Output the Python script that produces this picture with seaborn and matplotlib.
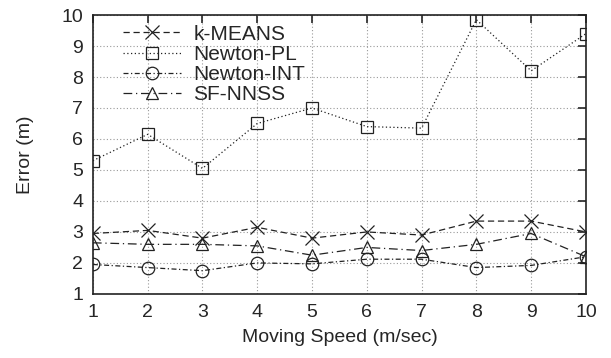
import pandas as pd
import matplotlib.pyplot as plt
import seaborn as sns

speeds = [1, 2, 3, 4, 5, 6, 7, 8, 9, 10]
kmeans = [2.95, 3.05, 2.8, 3.15, 2.8, 3.0, 2.9, 3.35, 3.35, 3.0]
newton_pl = [5.3, 6.15, 5.05, 6.5, 7.0, 6.4, 6.35, 9.85, 8.2, 9.4]
newton_int = [1.95, 1.85, 1.75, 2.0, 1.97, 2.12, 2.12, 1.85, 1.92, 2.2]
sf_nnss = [2.65, 2.6, 2.6, 2.55, 2.25, 2.5, 2.4, 2.6, 2.95, 2.2]

series = {
    'k-MEANS': kmeans,
    'Newton-PL': newton_pl,
    'Newton-INT': newton_int,
    'SF-NNSS': sf_nnss,
}

# gnuplot-ish line/marker styles
styles = {
    'k-MEANS': dict(marker='x', linestyle=(0, (5, 3)), markersize=10),
    'Newton-PL': dict(marker='s', linestyle=(0, (1, 2)), markersize=9),
    'Newton-INT': dict(marker='o', linestyle=(0, (4, 2, 1, 2)), markersize=9),
    'SF-NNSS': dict(marker='^', linestyle=(0, (7, 3, 1, 3)), markersize=9),
}

sns.set_style('white')
plt.rcParams['font.family'] = ['Liberation Sans', 'DejaVu Sans']

fig = plt.figure(figsize=(6.11, 3.58), dpi=100)
ax = fig.add_axes([0.152, 0.179, 0.807, 0.779])

for name, vals in series.items():
    df = pd.DataFrame({'speed': speeds, 'error': vals})
    sns.lineplot(data=df, x='speed', y='error', ax=ax, color='#222222',
                 linewidth=0.9, markerfacecolor='none', markeredgecolor='#222222',
                 markeredgewidth=0.9, label=name, **styles[name])

ax.set_xlim(1, 10)
ax.set_ylim(1, 10)
ax.set_xticks(speeds)
ax.set_yticks(range(1, 11))
ax.grid(True, color='#999999', linestyle=(0, (1, 2)), linewidth=0.8)
ax.tick_params(direction='in', length=6, width=1.2, labelsize=14,
               top=True, right=True, pad=7)
for sp in ax.spines.values():
    sp.set_linewidth(1.2)
    sp.set_color('#222222')

ax.set_xlabel('Moving Speed (m/sec)', fontsize=14, labelpad=6)
ax.set_ylabel('Error (m)', fontsize=14, labelpad=20)

ax.legend(loc='upper left', frameon=False, fontsize=15, handlelength=2.8,
          handletextpad=0.6, labelspacing=0.06, borderaxespad=0.2,
          bbox_to_anchor=(0.035, 1.01))

fig.savefig('out.png', dpi=100)
